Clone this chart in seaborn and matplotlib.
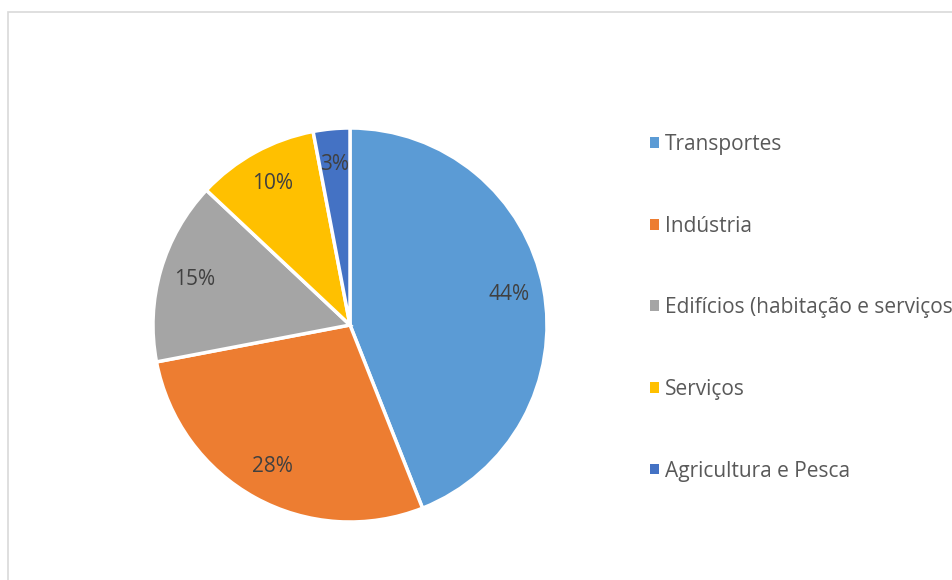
import matplotlib
matplotlib.use("Agg")
import matplotlib.pyplot as plt
import seaborn as sns
from matplotlib.patches import Patch, Rectangle

sns.set_theme(style="white")
plt.rcParams['font.family'] = ['Open Sans', 'DejaVu Sans']

# Data
sectors = ['Transportes', 'Indústria', 'Edifícios (habitação e serviços)', 'Serviços', 'Agricultura e Pesca']
shares = [44, 28, 15, 10, 3]
colors = sns.color_palette(['#5B9BD5', '#ED7D31', '#A5A5A5', '#FFC000', '#4472C4'])

W, H = 953, 580
fig = plt.figure(figsize=(W / 100, H / 100), dpi=100)

# Chart frame (only left and top visible, rest cropped)
fig.patches.append(Rectangle((8 / W, -0.1), 1.2, (H - 12) / H + 0.1, transform=fig.transFigure,
                             fill=False, edgecolor='#D9D9D9', linewidth=1.2))

# Pie axes: centre (350, 325) px, radius 197 px
cx, cy, r = 350, 325, 197
ax = fig.add_axes([(cx - r) / W, (H - cy - r) / H, 2 * r / W, 2 * r / H])
wedges, texts, autotexts = ax.pie(shares, colors=colors, startangle=90, counterclock=False,
                                  autopct='%1.0f%%', pctdistance=0.82,
                                  wedgeprops=dict(edgecolor='white', linewidth=2.5),
                                  textprops=dict(color='#404040', fontsize=15))
ax.set_xlim(-1, 1)
ax.set_ylim(-1, 1)
ax.set_aspect('equal')
ax.axis('off')

# Legend
handles = [Patch(facecolor=c, edgecolor='none') for c in colors]
fig.legend(handles, sectors, loc='upper left', bbox_to_anchor=(650 / W, 1 - 134 / H),
           frameon=False, fontsize=15, labelcolor='#595959',
           handlelength=0.42, handleheight=0.42, handletextpad=0.3,
           labelspacing=2.91, borderpad=0, borderaxespad=0)

fig.savefig('out.png', dpi=100)
